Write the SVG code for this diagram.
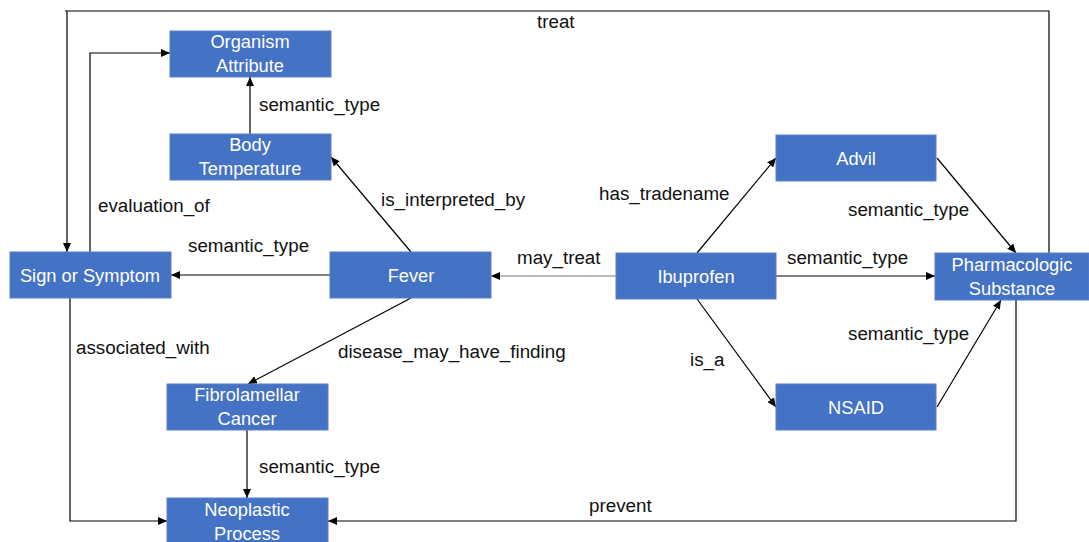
<svg xmlns="http://www.w3.org/2000/svg" width="1089" height="542" viewBox="0 0 1089 542">
<style>
.box{fill:#4472C4;stroke:#5a80c8;stroke-width:1}
.nt{font-family:"Liberation Sans",Arial,sans-serif;font-size:18.3px;fill:#ffffff;text-anchor:middle}
.lb{font-family:"Liberation Sans",Arial,sans-serif;font-size:18.8px;fill:#111111}
.c{fill:none;stroke:#000000;stroke-width:1.2}
</style>
<defs>
<marker id="ah" markerWidth="9" markerHeight="8" refX="9" refY="4" orient="auto" markerUnits="userSpaceOnUse">
<path d="M0,0 L9,4 L0,8 Z" fill="#000000"/>
</marker>
</defs>
<rect width="1089" height="542" fill="#ffffff"/>
<g id="connectors">
<path class="c" d="M1049,253 V11 H65 M67,11 V252" marker-end="url(#ah)"/>
<path class="c" d="M90,252 V53 H170" marker-end="url(#ah)"/>
<path class="c" d="M250,134 V77" marker-end="url(#ah)"/>
<path class="c" d="M411,252 L331,157" marker-end="url(#ah)"/>
<path class="c" d="M330,275 H171" marker-end="url(#ah)"/>
<path class="c" d="M411,298 L248,384" marker-end="url(#ah)"/>
<path class="c" d="M70,298 V521 H167" marker-end="url(#ah)"/>
<path class="c" d="M247,430 V498" marker-end="url(#ah)"/>
<path class="c" d="M616,276 H491" style="stroke:#777777" marker-end="url(#ah)"/>
<path class="c" d="M697,253 L776,158" marker-end="url(#ah)"/>
<path class="c" d="M776,276 H935" marker-end="url(#ah)"/>
<path class="c" d="M937,158 L1016,253" marker-end="url(#ah)"/>
<path class="c" d="M697,299 L776,407" marker-end="url(#ah)"/>
<path class="c" d="M937,407 L1001,300" marker-end="url(#ah)"/>
<path class="c" d="M1016,300 V521 H328" marker-end="url(#ah)"/>
</g>
<g id="labels">
<text class="lb" x="537" y="28">treat</text>
<text class="lb" x="259" y="111">semantic_type</text>
<text class="lb" x="98" y="212">evaluation_of</text>
<text class="lb" x="381" y="206">is_interpreted_by</text>
<text class="lb" x="188" y="252">semantic_type</text>
<text class="lb" x="517" y="264">may_treat</text>
<text class="lb" x="599" y="200">has_tradename</text>
<text class="lb" x="787" y="264">semantic_type</text>
<text class="lb" x="848" y="216">semantic_type</text>
<text class="lb" x="76" y="354">associated_with</text>
<text class="lb" x="338" y="358">disease_may_have_finding</text>
<text class="lb" x="690" y="366">is_a</text>
<text class="lb" x="848" y="340">semantic_type</text>
<text class="lb" x="259" y="473">semantic_type</text>
<text class="lb" x="589" y="512">prevent</text>
</g>
<g id="organism-attribute"><rect class="box" x="170" y="31" width="161" height="46"/><text class="nt" x="250" y="48">Organism</text><text class="nt" x="250" y="72">Attribute</text></g>
<g id="body-temperature"><rect class="box" x="170" y="134" width="161" height="46"/><text class="nt" x="250" y="151">Body</text><text class="nt" x="250" y="175">Temperature</text></g>
<g id="sign-or-symptom"><rect class="box" x="10" y="252" width="161" height="46"/><text class="nt" x="90" y="282">Sign or Symptom</text></g>
<g id="fever"><rect class="box" x="330" y="252" width="161" height="46"/><text class="nt" x="411" y="282">Fever</text></g>
<g id="fibrolamellar-cancer"><rect class="box" x="167" y="384" width="161" height="46"/><text class="nt" x="247" y="401">Fibrolamellar</text><text class="nt" x="247" y="425">Cancer</text></g>
<g id="neoplastic-process"><rect class="box" x="167" y="498" width="161" height="46"/><text class="nt" x="247" y="516">Neoplastic</text><text class="nt" x="247" y="540">Process</text></g>
<g id="ibuprofen"><rect class="box" x="616" y="253" width="160" height="46"/><text class="nt" x="696" y="283">Ibuprofen</text></g>
<g id="advil"><rect class="box" x="776" y="135" width="160" height="46"/><text class="nt" x="856" y="165">Advil</text></g>
<g id="nsaid"><rect class="box" x="776" y="384" width="160" height="46"/><text class="nt" x="856" y="414">NSAID</text></g>
<g id="pharmacologic-substance"><rect class="box" x="935" y="253" width="154" height="47"/><text class="nt" x="1012" y="271">Pharmacologic</text><text class="nt" x="1012" y="295">Substance</text></g>
</svg>
